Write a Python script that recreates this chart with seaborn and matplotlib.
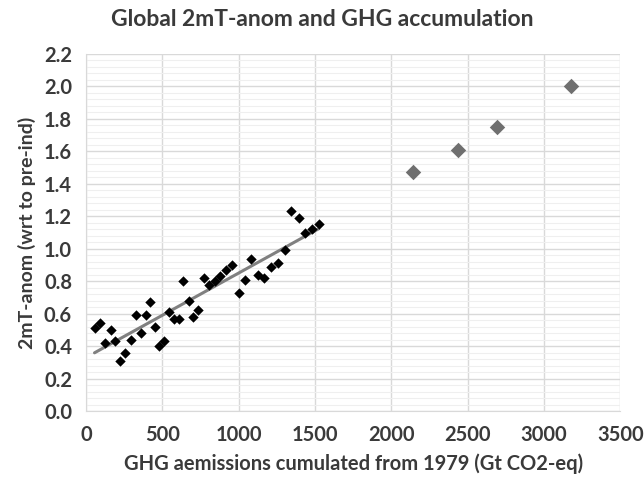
import numpy as np
import pandas as pd
import matplotlib
matplotlib.use("Agg")
import matplotlib.pyplot as plt
import seaborn as sns
from matplotlib.ticker import MultipleLocator

# Observed (1979-) cumulative emissions vs. temperature anomaly
obs_x = [56, 89, 127, 161, 192, 225, 258, 295, 325, 362, 393, 421, 452, 480,
         513, 546, 577, 607, 638, 672, 703, 736, 771, 806, 843, 880, 919, 959,
         1000, 1039, 1083, 1125, 1166, 1214, 1258, 1304, 1345, 1393, 1437,
         1481, 1524]
obs_y = [0.51, 0.54, 0.42, 0.50, 0.43, 0.31, 0.36, 0.44, 0.59, 0.48, 0.59,
         0.67, 0.52, 0.40, 0.43, 0.61, 0.57, 0.57, 0.80, 0.68, 0.58, 0.62,
         0.82, 0.78, 0.80, 0.83, 0.87, 0.90, 0.73, 0.81, 0.94, 0.84, 0.82,
         0.89, 0.91, 0.99, 1.23, 1.19, 1.10, 1.12, 1.15]

# Projection points
proj_x = [2140, 2440, 2690, 3180]
proj_y = [1.47, 1.61, 1.75, 2.00]

title = "Global 2mT-anom and GHG accumulation"
xlabel = "GHG aemissions cumulated from 1979 (Gt CO2-eq)"
ylabel = "2mT-anom (wrt to pre-ind)"

obs = pd.DataFrame({"x": obs_x, "y": obs_y})
proj = pd.DataFrame({"x": proj_x, "y": proj_y})

sns.set_style("white")
plt.rcParams['font.family'] = ['Lato', 'DejaVu Sans']

fig = plt.figure(figsize=(6.44, 4.82), dpi=100)
ax = fig.add_axes([0.1335, 0.147, 0.8295, 0.741])

txt = "#3a3a3a"

sns.regplot(data=obs, x="x", y="y", scatter=False, ci=None, truncate=True,
            line_kws=dict(color="#808080", lw=2.2, zorder=2), ax=ax)
sns.scatterplot(data=obs, x="x", y="y", marker="D", s=28, color="black",
                edgecolor="black", linewidth=0, zorder=3, ax=ax)
sns.scatterplot(data=proj, x="x", y="y", marker="D", s=62, color="#6f6f6f",
                edgecolor="#6f6f6f", linewidth=0, zorder=3, ax=ax)

ax.set_xlim(0, 3500)
ax.set_ylim(0, 2.2)
ax.xaxis.set_major_locator(MultipleLocator(500))
ax.yaxis.set_major_locator(MultipleLocator(0.2))
ax.yaxis.set_minor_locator(MultipleLocator(0.04))
ax.yaxis.set_major_formatter(matplotlib.ticker.FormatStrFormatter("%.1f"))

ax.grid(True, which="major", axis="both", color="#d9d9d9", lw=1.0, zorder=0)
ax.grid(True, which="minor", axis="y", color="#efefef", lw=0.8, zorder=0)
ax.set_axisbelow(True)

for s in ["top", "right"]:
    ax.spines[s].set_visible(False)
ax.spines["left"].set_color("#d9d9d9")
ax.spines["bottom"].set_color("#d9d9d9")

ax.tick_params(axis="both", which="major", length=4, color="#d9d9d9",
               labelsize=14.5, labelcolor=txt, pad=6)
ax.tick_params(axis="y", which="minor", length=0)
for lab in ax.get_xticklabels() + ax.get_yticklabels():
    lab.set_fontweight("bold")

ax.set_xlabel(xlabel, fontsize=14.5, fontweight="bold", color=txt, labelpad=6)
ax.set_ylabel(ylabel, fontsize=14, fontweight="bold", color=txt, labelpad=6)
fig.suptitle(title, x=0.50, y=0.982, fontsize=16.5, fontweight="bold", color=txt)

fig.savefig("out.png", dpi=100)
